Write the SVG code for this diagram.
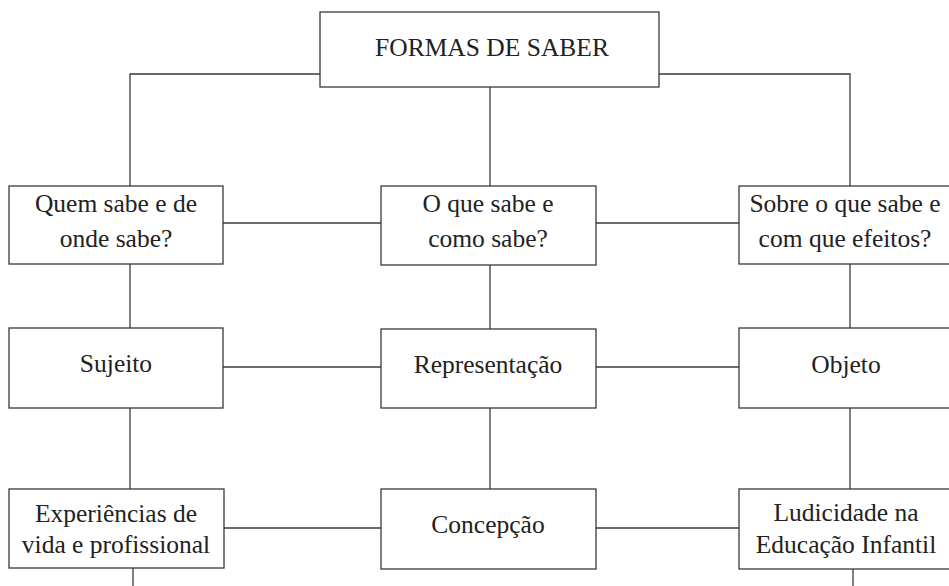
<svg xmlns="http://www.w3.org/2000/svg" width="949" height="586" viewBox="0 0 949 586">
<style>
.box{fill:#fff;stroke:#3a3a3a;stroke-width:1.3}
.ln{fill:none;stroke:#3a3a3a;stroke-width:1.3}
text{font-family:"Liberation Serif","DejaVu Serif",serif;font-size:25.5px;fill:#222;text-anchor:middle}
</style>
<rect width="949" height="586" fill="#fff"/>
<g id="connectors">
<polyline class="ln" points="320,74 130,74 130,186"/>
<polyline class="ln" points="659,74 850,74 850,186"/>
<line class="ln" x1="490" y1="87" x2="490" y2="186"/>
<line class="ln" x1="223" y1="223" x2="381" y2="223"/>
<line class="ln" x1="596" y1="223" x2="739" y2="223"/>
<line class="ln" x1="130" y1="264" x2="130" y2="328"/>
<line class="ln" x1="490" y1="265" x2="490" y2="329"/>
<line class="ln" x1="850" y1="264" x2="850" y2="328"/>
<line class="ln" x1="223" y1="367" x2="381" y2="367"/>
<line class="ln" x1="596" y1="367" x2="739" y2="367"/>
<line class="ln" x1="130" y1="408" x2="130" y2="489"/>
<line class="ln" x1="490" y1="408" x2="490" y2="489"/>
<line class="ln" x1="850" y1="408" x2="850" y2="489"/>
<line class="ln" x1="224" y1="528" x2="381" y2="528"/>
<line class="ln" x1="596" y1="528" x2="739" y2="528"/>
<line class="ln" x1="133" y1="568" x2="133" y2="586"/>
<line class="ln" x1="853" y1="569" x2="853" y2="586"/>
</g>
<g id="formas">
<rect class="box" x="320" y="12" width="339" height="75"/>
<text x="492" y="56" font-size="23">FORMAS DE SABER</text>
</g>
<g id="quem">
<rect class="box" x="9" y="186" width="214" height="78"/>
<text x="116" y="212">Quem sabe e de</text>
<text x="116" y="247">onde sabe?</text>
</g>
<g id="oque">
<rect class="box" x="381" y="186" width="215" height="79"/>
<text x="488" y="212">O que sabe e</text>
<text x="488" y="247">como sabe?</text>
</g>
<g id="sobre">
<rect class="box" x="739" y="186" width="215" height="78"/>
<text x="845" y="212">Sobre o que sabe e</text>
<text x="845" y="247">com que efeitos?</text>
</g>
<g id="sujeito">
<rect class="box" x="9" y="328" width="214" height="80"/>
<text x="116" y="372">Sujeito</text>
</g>
<g id="representacao">
<rect class="box" x="381" y="329" width="215" height="79"/>
<text x="488" y="373">Representação</text>
</g>
<g id="objeto">
<rect class="box" x="739" y="328" width="215" height="80"/>
<text x="846" y="373">Objeto</text>
</g>
<g id="experiencias">
<rect class="box" x="9" y="489" width="215" height="79"/>
<text x="116" y="522">Experiências de</text>
<text x="116" y="553">vida e profissional</text>
</g>
<g id="concepcao">
<rect class="box" x="381" y="489" width="215" height="80"/>
<text x="488" y="533">Concepção</text>
</g>
<g id="ludicidade">
<rect class="box" x="739" y="489" width="215" height="80"/>
<text x="846" y="521">Ludicidade na</text>
<text x="846" y="553">Educação Infantil</text>
</g>
</svg>
